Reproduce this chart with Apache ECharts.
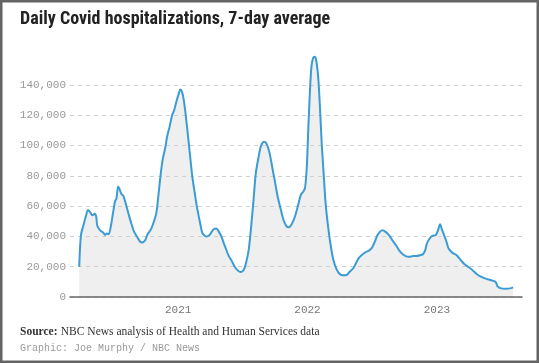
<!DOCTYPE html>
<html>
<head>
<meta charset="utf-8">
<script src="https://cdn.jsdelivr.net/npm/echarts@6/dist/echarts.min.js"></script>
<style>
html,body{margin:0;padding:0;background:#fff;}
#chart{width:539px;height:363px;}
</style>
</head>
<body>
<div id="chart"></div>
<script>
// Dates (7-day average readings) and hospitalization values
const dates = [
 '2020-03-28','2020-04-02','2020-04-09','2020-04-16','2020-04-22','2020-04-28','2020-05-04','2020-05-11','2020-05-15','2020-05-18',
 '2020-05-26','2020-06-04','2020-06-09','2020-06-14','2020-06-19','2020-06-25','2020-07-01','2020-07-07','2020-07-11','2020-07-16',
 '2020-07-21','2020-07-25','2020-07-31','2020-08-07','2020-08-14','2020-08-22','2020-08-30','2020-09-08','2020-09-16','2020-09-22',
 '2020-09-30','2020-10-06','2020-10-13','2020-10-17','2020-10-25','2020-11-01','2020-11-07','2020-11-13','2020-11-19','2020-11-26',
 '2020-12-01','2020-12-08','2020-12-15','2020-12-21','2020-12-27','2021-01-03','2021-01-07','2021-01-12','2021-01-17','2021-01-23',
 '2021-01-29','2021-02-04','2021-02-10','2021-02-17','2021-02-23','2021-03-03','2021-03-10','2021-03-17','2021-03-23','2021-03-31',
 '2021-04-07','2021-04-14','2021-04-20','2021-04-26','2021-05-03','2021-05-09','2021-05-14','2021-05-23','2021-06-02','2021-06-11',
 '2021-06-21','2021-06-28','2021-07-05','2021-07-11','2021-07-19','2021-07-26','2021-08-02','2021-08-08','2021-08-16','2021-08-23',
 '2021-09-01','2021-09-08','2021-09-16','2021-09-24','2021-10-02','2021-10-09','2021-10-18','2021-10-25','2021-11-02','2021-11-09',
 '2021-11-16','2021-11-23','2021-11-29','2021-12-07','2021-12-13','2021-12-20','2021-12-25','2021-12-30','2022-01-03','2022-01-08',
 '2022-01-12','2022-01-17','2022-01-22','2022-01-26','2022-01-31','2022-02-05','2022-02-10','2022-02-16','2022-02-21','2022-02-28',
 '2022-03-08','2022-03-15','2022-03-24','2022-04-02','2022-04-11','2022-04-21','2022-04-30','2022-05-10','2022-05-17','2022-05-25',
 '2022-06-03','2022-06-13','2022-06-22','2022-06-30','2022-07-03','2022-07-10','2022-07-16','2022-07-24','2022-08-01','2022-08-09',
 '2022-08-18','2022-08-28','2022-09-07','2022-09-16','2022-09-26','2022-10-05','2022-10-14','2022-10-26','2022-11-04','2022-11-16',
 '2022-11-23','2022-11-29','2022-12-04','2022-12-12','2022-12-19','2022-12-29','2023-01-04','2023-01-10','2023-01-15','2023-01-21',
 '2023-01-28','2023-02-03','2023-02-13','2023-02-25','2023-03-09','2023-03-20','2023-04-01','2023-04-13','2023-04-24','2023-05-05',
 '2023-05-18','2023-06-01','2023-06-15','2023-06-22','2023-07-01','2023-07-14','2023-07-26','2023-08-04'
];
const hospitalizations = [
 20000,41000,47500,53500,57500,56000,54000,55000,53000,47000,
 44000,42500,41000,42000,41500,46500,55000,63000,65000,73000,
 70500,68000,66500,61000,55000,48500,43000,39500,36500,36000,
 37500,41000,43500,45000,50000,56000,68500,81500,91500,99000,
 106000,112500,120000,123500,129000,134500,137000,135500,130000,119000,
 106000,92500,79500,68500,59500,50000,42500,40500,40000,41000,
 43500,45000,45000,43000,40000,36000,33000,27500,23500,19500,
 17000,16500,18000,22000,31000,46500,65000,81500,92500,100000,
 102500,101000,95000,85000,75000,66000,57500,51000,47000,46000,
 47500,51000,55000,62000,67500,69500,72000,86000,110000,136700,
 152000,158000,158700,155500,145500,125500,101500,79500,62000,46500,
 33000,24500,18300,15200,14300,14500,16700,19000,22000,25500,
 27700,29500,30400,32000,33000,36500,40300,43000,44000,43000,
 41000,37600,34300,31000,28400,27000,26600,27000,27000,27700,
 28400,31000,35500,38800,40300,41000,44000,48000,44700,41000,
 36500,32000,29300,27700,24400,21600,19600,17400,15000,13400,
 12100,11200,10100,6800,5700,5500,5700,6400
];
const yearTicks = ['2021-01-01','2022-01-01','2023-01-01'];
const yTicks = [0,20000,40000,60000,80000,100000,120000,140000];

const titleText = 'Daily Covid hospitalizations, 7-day average';
const sourceLabel = 'Source:';
const sourceText = 'NBC News analysis of Health and Human Services data';
const creditText = 'Graphic: Joe Murphy / NBC News';

const toTs = s => { const p = s.split('-').map(Number); return Date.UTC(p[0], p[1]-1, p[2]); };
const seriesData = dates.map((d, i) => [toTs(d), hospitalizations[i]]);

const chart = echarts.init(document.getElementById('chart'), null, {renderer: 'canvas'});
chart.setOption({
  animation: false,
  backgroundColor: '#fff',
  grid: {left: 70, right: 17, top: 85, bottom: 66, containLabel: false},
  xAxis: {
    type: 'value',
    z: 3,
    min: toTs('2020-03-02'),
    max: toTs('2023-08-29'),
    axisLine: {show: true, onZero: false, lineStyle: {color: '#666', width: 1.5}},
    axisTick: {show: false},
    splitLine: {show: false},
    axisLabel: {
      customValues: yearTicks.map(toTs),
      formatter: v => String(new Date(v).getUTCFullYear()),
      color: '#777',
      fontFamily: 'Liberation Mono, DejaVu Sans Mono, monospace',
      fontSize: 11,
      margin: 8
    }
  },
  yAxis: {
    type: 'value',
    z: 3,
    min: 0,
    max: 140000,
    interval: 20000,
    axisLine: {show: false},
    axisTick: {show: false},
    splitLine: {show: true, lineStyle: {color: '#cfcfcf', type: [4, 4], width: 1}},
    axisLabel: {
      customValues: yTicks,
      color: '#999',
      fontFamily: 'Liberation Mono, DejaVu Sans Mono, monospace',
      fontSize: 11,
      margin: 4,
      formatter: v => v.toLocaleString('en-US')
    }
  },
  series: [{
    type: 'line',
    data: seriesData,
    smooth: 0.3,
    showSymbol: false,
    clip: false,
    lineStyle: {width: 0, opacity: 0},
    areaStyle: {color: '#efefef', opacity: 1},
    z: 1
  }, {
    type: 'line',
    data: seriesData,
    smooth: 0.3,
    showSymbol: false,
    clip: false,
    lineStyle: {color: '#3a9bd5', width: 2},
    z: 5
  }],
  graphic: [
    {type: 'rect', silent: true, z: 100, shape: {x: 0, y: 0, width: 539, height: 363},
     style: {fill: 'none', stroke: '#646464', lineWidth: 5}},
    {type: 'text', left: 20, top: 10, z: 10,
     style: {text: titleText, fill: '#222', font: 'bold 18px "Liberation Sans Narrow", "Roboto Condensed", Roboto, sans-serif'}},
    {type: 'text', left: 20, top: 326, z: 10,
     style: {
       text: '{b|' + sourceLabel + '} {n|' + sourceText + '}',
       rich: {
         b: {fontFamily: 'Liberation Serif, serif', fontWeight: 'bold', fontSize: 11.5, fill: '#333'},
         n: {fontFamily: 'Liberation Serif, serif', fontSize: 11.5, fill: '#333'}
       }
     }},
    {type: 'text', left: 20, top: 343, z: 10,
     style: {text: creditText, fill: '#999', font: '10px "Liberation Mono", "DejaVu Sans Mono", monospace'}}
  ]
});
</script>
</body>
</html>
